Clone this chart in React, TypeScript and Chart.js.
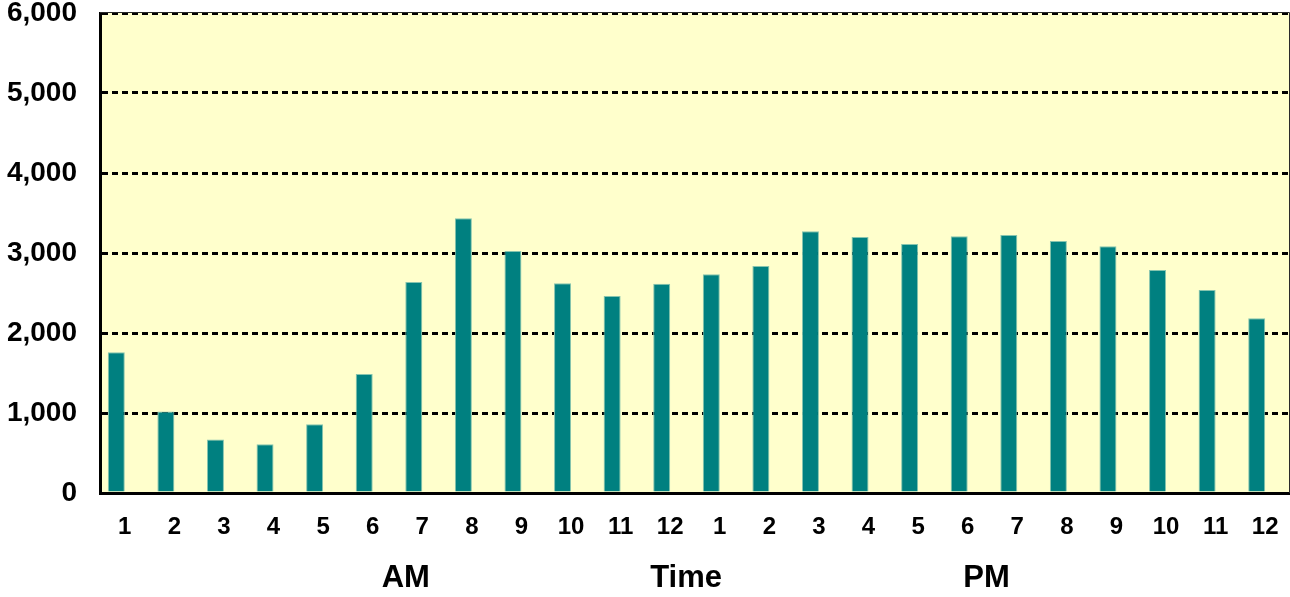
import React, { useEffect, useRef } from "react";
import { Chart, registerables } from "chart.js";

Chart.register(...registerables);

const hourLabels = ["1", "2", "3", "4", "5", "6", "7", "8", "9", "10", "11", "12", "1", "2", "3", "4", "5", "6", "7", "8", "9", "10", "11", "12"];
const hourlyCounts = [1758, 1020, 670, 610, 858, 1487, 2637, 3433, 3025, 2621, 2462, 2616, 2735, 2837, 3271, 3200, 3112, 3208, 3225, 3150, 3083, 2787, 2537, 2183];
const blankSeries = [null, null, null, null, null, null, null, null, null, null, null, null, null, null, null, null, null, null, null, null, null, null, null, null];
const yMin = 0;
const yMax = 6000;
const yStep = 1000;
const periodLabels = ["AM", "Time", "PM"];
const periodAnchors = [0.257, 0.4925, 0.745];

const FONT = "'Liberation Sans', Arial, Helvetica, sans-serif";

const framePlugin = {
  id: "frame",
  beforeDraw(chart: any) {
    const { ctx, chartArea } = chart;
    const { left, top, right, bottom } = chartArea;
    ctx.save();
    ctx.fillStyle = "#FFFFCC";
    ctx.fillRect(left, top, right - left, bottom - top);
    ctx.restore();
  },
  afterDraw(chart: any) {
    const { ctx, chartArea } = chart;
    const { left, top, right, bottom } = chartArea;
    ctx.save();
    ctx.strokeStyle = "#2a2a2a";
    ctx.lineWidth = 1;
    ctx.beginPath();
    ctx.moveTo(left, top - 0.5);
    ctx.lineTo(right - 0.5, top - 0.5);
    ctx.lineTo(right - 0.5, bottom);
    ctx.stroke();

    ctx.fillStyle = "#000";
    ctx.font = `bold 31px ${FONT}`;
    ctx.textAlign = "center";
    ctx.textBaseline = "middle";
    periodLabels.forEach((t, i) => {
      const x = left + (right - left) * periodAnchors[i];
      ctx.fillText(t, x, 578);
    });
    ctx.restore();
  },
};

export default function App() {
  const ref = useRef<HTMLCanvasElement | null>(null);

  useEffect(() => {
    if (!ref.current) return;
    const chart = new Chart(ref.current, {
      type: "bar",
      data: {
        labels: hourLabels,
        datasets: [
          {
            label: "Count",
            data: hourlyCounts,
            backgroundColor: "#008080",
            borderColor: "#86C4AE",
            borderWidth: 1,
            categoryPercentage: 0.686,
            barPercentage: 1,
          },
          {
            label: "",
            data: blankSeries as any,
            backgroundColor: "rgba(0,0,0,0)",
            categoryPercentage: 0.686,
            barPercentage: 1,
          },
        ],
      },
      options: {
        responsive: false,
        animation: false,
        devicePixelRatio: 1,
        layout: { padding: { top: 13, left: 0, right: 0, bottom: 0 } },
        plugins: {
          legend: { display: false },
          tooltip: { enabled: false },
          title: { display: false },
        },
        scales: {
          x: {
            z: 1,
            grid: { display: false, drawTicks: false },
            border: { display: true, color: "#000", width: 3 },
            ticks: {
              color: "#000",
              padding: 20,
              maxRotation: 0,
              autoSkip: false,
              font: { family: FONT, size: 24, weight: "bold" },
            },
            afterFit: (scale: any) => {
              scale.height = 104;
              scale.paddingLeft = 0;
              scale.paddingRight = 0;
            },
          },
          y: {
            z: 1,
            min: yMin,
            max: yMax,
            grid: { color: "#000", lineWidth: 3, drawTicks: false },
            border: { display: true, color: "#000", width: 3, dash: [6, 4] },
            ticks: {
              stepSize: yStep,
              color: "#000",
              padding: 23,
              font: { family: FONT, size: 28, weight: "bold", lineHeight: 0.9 },
              callback: (v: any) => Number(v).toLocaleString("en-US"),
            },
            afterFit: (scale: any) => {
              scale.width = 100;
              scale.paddingTop = 0;
              scale.paddingBottom = 0;
            },
          },
        },
      } as any,
      plugins: [framePlugin],
    });
    return () => chart.destroy();
  }, []);

  return (
    <div style={{ position: "fixed", left: 0, top: 0, width: 1290, height: 597, background: "#fff" }}>
      <canvas ref={ref} width={1290} height={597} style={{ display: "block" }} />
    </div>
  );
}
